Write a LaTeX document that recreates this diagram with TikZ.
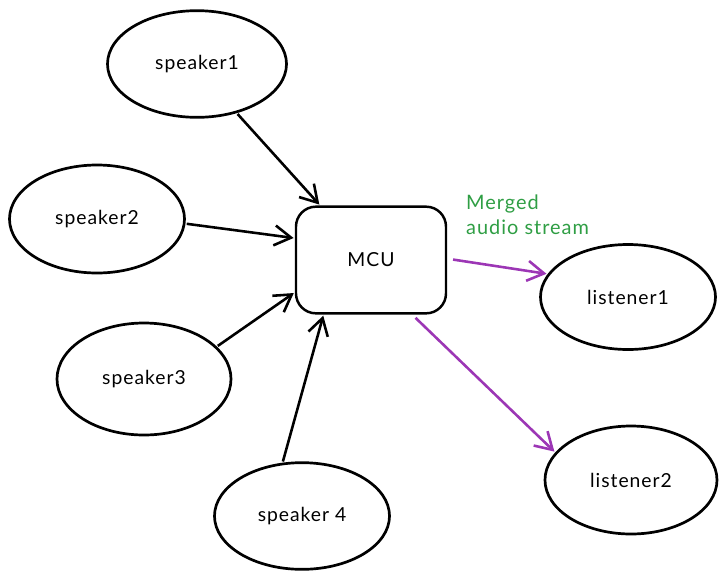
\documentclass[tikz,border=0pt]{standalone}
\usepackage{fontspec}
\setmainfont[LetterSpace=5]{Lato}
\usetikzlibrary{shapes.geometric,arrows.meta}

\definecolor{flowpurple}{HTML}{9C36B5}
\definecolor{notegreen}{HTML}{2F9E44}

\tikzset{
    blob/.style={draw, ellipse, line width=2.3pt, font=\fontsize{16.5}{20}\selectfont},
    hub/.style={draw, rounded corners=17pt, line width=2.1pt, minimum width=4.5cm, minimum height=3.2cm, font=\fontsize{16.5}{20}\selectfont},
    feed/.style={line width=2.2pt, -{Straight Barb[length=5mm, width=6mm, line width=2.2pt]}, shorten <=1pt, shorten >=1pt},
    merged/.style={feed, flowpurple}
}

\begin{document}
\begin{tikzpicture}[x=0.03cm, y=-0.03cm]
        % Canvas
        \useasboundingbox (0,0) rectangle (727,579);

        % Speakers
        \node[blob, minimum width=5.37cm, minimum height=3.2cm] (spk1) at (197,64) {speaker1};
        \node[blob, minimum width=5.25cm, minimum height=3.24cm] (spk2) at (97,219) {speaker2};
        \node[blob, minimum width=5.22cm, minimum height=3.36cm] (spk3) at (144,379) {speaker3};
        \node[blob, minimum width=5.25cm, minimum height=3.2cm] (spk4) at (302,516) {speaker 4};

        % Mixing unit
        \node[hub] (mcu) at (371,260) {MCU};

        % Listeners
        \node[blob, minimum width=5.25cm, minimum height=3.15cm] (lis1) at (628,297) {listener1};
        \node[blob, minimum width=5.16cm, minimum height=3.24cm] (lis2) at (631,480) {listener2};

        % Incoming streams
        \draw[feed] (spk1.309) -- (mcu.133);
        \draw[feed] (spk2.357) -- (mcu.164);
        \draw[feed] (spk3.24) -- (mcu.203);
        \draw[feed] (spk4.110) -- (mcu.229);

        % Outgoing mix
        \draw[merged, shorten <=5pt] (mcu.1) -- (lis1.164);
        \draw[merged, shorten <=4pt] (mcu.307) -- (lis2.160);

        % Note
        \node[anchor=north west, align=left, notegreen, inner sep=0pt, font=\fontsize{17}{21}\selectfont] (note) at (466,195) {Merged\\audio stream};
    \end{tikzpicture}
\end{document}
